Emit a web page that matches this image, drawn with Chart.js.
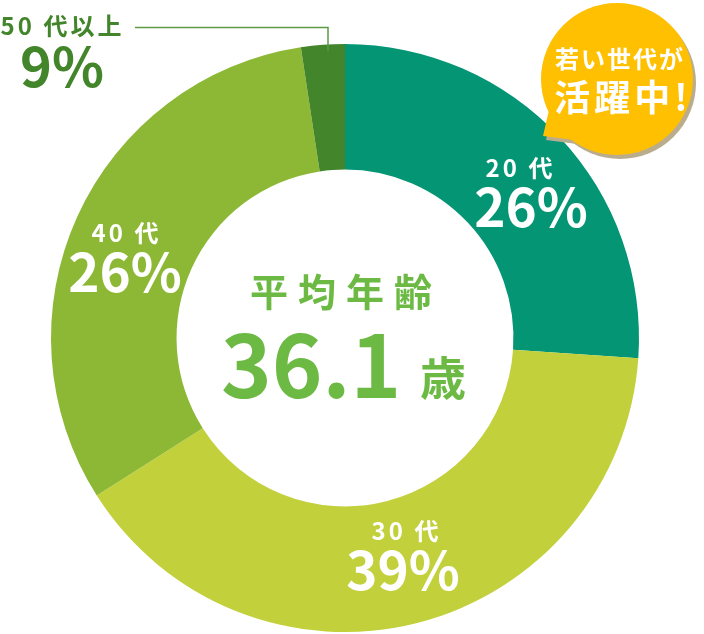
<!DOCTYPE html>
<html lang="ja">
<head>
<meta charset="utf-8">
<script src="https://cdn.jsdelivr.net/npm/chart.js@4.4.1/dist/chart.umd.min.js"></script>
<style>
  html, body { margin: 0; padding: 0; background: #ffffff; }
  #wrap { position: relative; width: 704px; height: 634px; }
  canvas { display: block; }
</style>
</head>
<body>
<div id="wrap"><canvas id="c" width="704" height="634"></canvas></div>
<script>
// ---- data ----
const categories = ['20 代', '30 代', '40 代', '50 代以上'];
const sliceShares = [26.1, 39.9, 31.6, 2.4];      // angular share of each drawn arc
const printedPercents = ['26%', '39%', '26%', '9%']; // percentages printed on the chart
const sliceColors = ['#039574', '#c2d03b', '#8cb835', '#43852b'];
const centerTitle = '平均年齢';
const centerValue = '36.1';
const centerUnit = '歳';
const calloutLines = ['若い世代が', '活躍中!'];

const FONT = '"Noto Sans CJK JP", "Noto Sans", sans-serif';

function drawSpaced(ctx, text, cx, baseline, size, ls, color) {
  ctx.font = '700 ' + size + 'px ' + FONT;
  ctx.letterSpacing = ls + 'px';
  ctx.textAlign = 'left';
  ctx.textBaseline = 'alphabetic';
  const w = ctx.measureText(text).width;
  ctx.fillStyle = color;
  ctx.fillText(text, cx - (w - ls) / 2, baseline);
  ctx.letterSpacing = '0px';
}

const overlayPlugin = {
  id: 'overlay',
  afterDraw(chart) {
    const ctx = chart.ctx;
    const meta = chart.getDatasetMeta(0);
    const arc0 = meta.data[0];
    const cx = arc0.x, cy = arc0.y;
    ctx.save();

    // ring labels (positions relative to the doughnut centre)
    const ringLabelPos = [
      { sx: 174, sy: -161, bx: 186, by: -111 },
      { sx: 60, sy: 202, bx: 58, by: 252 },
      { sx: -220, sy: -96, bx: -220, by: -46 }
    ];
    for (let i = 0; i < 3; i++) {
      const p = ringLabelPos[i];
      drawSpaced(ctx, categories[i], cx + p.sx, cy + p.sy, 24, 3, '#ffffff');
      drawSpaced(ctx, printedPercents[i], cx + p.bx, cy + p.by, 53, 0, '#ffffff');
    }

    // 50代以上 outside label + leader line
    const dark = '#43852b';
    drawSpaced(ctx, categories[3], 61, 35, 24, 3, dark);
    drawSpaced(ctx, printedPercents[3], 62, 87, 54, 0, dark);
    const a3 = meta.data[3];
    const outerTopY = cy - a3.outerRadius + 1;
    ctx.strokeStyle = '#5e9a46';
    ctx.lineWidth = 1.5;
    ctx.beginPath();
    ctx.moveTo(135, 27.5);
    ctx.lineTo(328, 27.5);
    ctx.lineTo(328, outerTopY + 6);
    ctx.stroke();

    // centre text
    const green = '#6cba44';
    drawSpaced(ctx, centerTitle, cx - 4, 306, 38, 10, green);
    ctx.font = '700 86px ' + FONT;
    ctx.textAlign = 'left';
    ctx.fillStyle = green;
    ctx.letterSpacing = '0px';
    ctx.fillText(centerValue, 221, 398);
    ctx.font = '700 46px ' + FONT;
    ctx.fillText(centerUnit, 420, 395);

    // callout bubble
    const bx = 617, by = 79, br = 76;
    function bubble(dx, dy, color) {
      ctx.fillStyle = color;
      ctx.beginPath();
      ctx.arc(bx + dx, by + dy, br, 0, Math.PI * 2);
      ctx.fill();
      ctx.beginPath();
      ctx.moveTo(549 + dx, 110 + dy);
      ctx.lineTo(543 + dx, 136 + dy);
      ctx.lineTo(574 + dx, 140 + dy);
      ctx.closePath();
      ctx.fill();
    }
    bubble(3, 4, '#b9ad8e');
    bubble(0, 0, '#fec000');
    drawSpaced(ctx, calloutLines[0], 619, 68, 24, 2, '#ffffff');
    drawSpaced(ctx, calloutLines[1], 621, 111, 36, 4, '#ffffff');

    ctx.restore();
  }
};

new Chart(document.getElementById('c'), {
  type: 'doughnut',
  data: {
    labels: categories,
    datasets: [{
      data: sliceShares,
      backgroundColor: sliceColors,
      borderWidth: 0,
      hoverOffset: 0
    }]
  },
  options: {
    responsive: false,
    animation: false,
    devicePixelRatio: 1,
    cutout: '57.3%',
    rotation: 0,
    layout: { padding: { left: 51, right: 65, top: 44, bottom: 2 } },
    events: [],
    plugins: {
      legend: { display: false },
      tooltip: { enabled: false }
    }
  },
  plugins: [overlayPlugin]
});
</script>
</body>
</html>
